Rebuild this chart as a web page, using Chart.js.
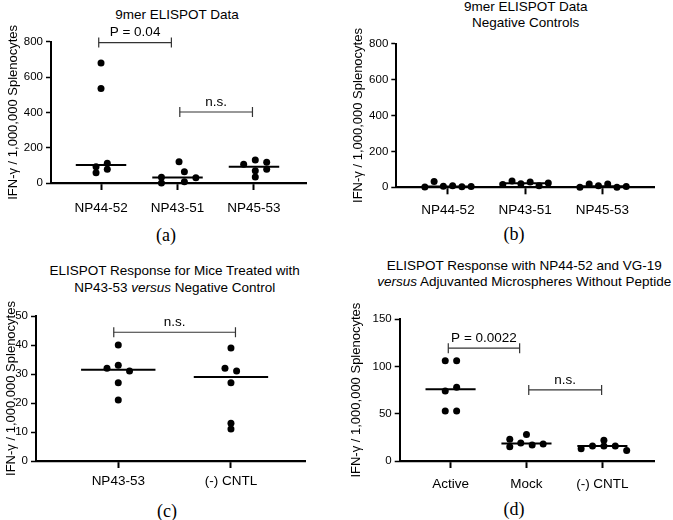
<!DOCTYPE html>
<html>
<head>
<meta charset="utf-8">
<script src="https://cdn.jsdelivr.net/npm/chart.js@4"></script>
<style>
  body { margin: 0; background: #fff; }
  #fig { position: relative; width: 673px; height: 520px; overflow: hidden;
         font-family: "Liberation Sans", Arial, sans-serif; color: #000; }
  .ttl { position: absolute; width: 360px; text-align: center; font-size: 13.5px;
         line-height: 16.5px; white-space: nowrap; }
  .cap { position: absolute; width: 60px; text-align: center;
         font-family: "Liberation Serif", serif; font-size: 18px; line-height: 20px; }
  canvas { position: absolute; }
</style>
</head>
<body>
<div id="fig">
  <div class="ttl" style="left:-3px; top:6.5px;">9mer ELISPOT Data</div>
  <div class="ttl" style="left:345.7px; top:-1.5px;">9mer ELISPOT Data<br>Negative Controls</div>
  <div class="ttl" style="left:-5.3px; top:263.4px;">ELISPOT Response for Mice Treated with<br>NP43-53 <i>versus</i> Negative Control</div>
  <div class="ttl" style="left:344.3px; top:257.7px;">ELISPOT Response with NP44-52 and VG-19<br><i>versus</i> Adjuvanted Microspheres Without Peptide</div>
  <div class="cap" style="left:136px; top:225px;">(a)</div>
  <div class="cap" style="left:484px; top:224px;">(b)</div>
  <div class="cap" style="left:137px; top:501px;">(c)</div>
  <div class="cap" style="left:484px; top:499px;">(d)</div>
</div>
<script>
// --- data ---
const yTitle = 'IFN-γ / 1,000,000 Splenocytes';

// (a) 9mer ELISPOT
const catsA = ['NP44-52', 'NP43-51', 'NP45-53'];
const valuesA = [
    [680, 535, 92, 112, 58, 78],
    [121, 32, 0, 64, 7, 30],
    [106, 130, 117, 70, 78, 34]
];
const jitterA = [
    [0, 0, -0.065, 0.082, -0.065, 0.082],
    [0.02, -0.21, -0.21, 0.09, 0.09, 0.24],
    [-0.135, 0.017, 0.166, 0.017, 0.166, 0.017]
];
const bracketsA = [
    { x0: -0.03, x1: 0.92, y: 795, label: 'P = 0.04' },
    { x0: 1.03, x1: 1.98, y: 402, label: 'n.s.' }
];

// (b) negative controls
const catsB = ['NP44-52', 'NP43-51', 'NP45-53'];
const valuesB = [
    [2, 32, 6, 8, 3, 4],
    [15, 35, 20, 30, 8, 24],
    [0, 18, 9, 18, 0, 4]
];
const jitterB = [
    [-0.3, -0.18, -0.06, 0.06, 0.18, 0.3],
    [-0.29, -0.17, -0.055, 0.065, 0.18, 0.3],
    [-0.29, -0.17, -0.05, 0.07, 0.19, 0.31]
];
const bracketsB = [];

// (c) NP43-53 vs control
const catsC = ['NP43-53', '(-) CNTL'];
const valuesC = [
    [40, 32, 33, 31, 27, 21],
    [39, 32, 31, 27, 13, 11]
];
const jitterC = [
    [0, -0.1, 0, 0.1, 0, 0],
    [0, -0.053, 0.05, 0, 0, 0]
];
const bracketsC = [
    { x0: -0.04, x1: 1.04, y: 44.4, label: 'n.s.' }
];

// (d) NP44-52 + VG-19
const catsD = ['Active', 'Mock', '(-) CNTL'];
const valuesD = [
    [106, 106, 74, 78, 53, 53],
    [23, 15, 19, 28, 17, 18],
    [13, 16, 22, 16, 16, 11]
];
const jitterD = [
    [-0.07, 0.08, -0.07, 0.08, -0.07, 0.08],
    [-0.22, -0.22, -0.075, 0, 0.075, 0.22],
    [-0.28, -0.13, 0.02, 0.02, 0.17, 0.32]
];
const bracketsD = [
    { x0: -0.03, x1: 0.91, y: 119.4, label: 'P = 0.0022' },
    { x0: 1.03, x1: 1.99, y: 75.2, label: 'n.s.' }
];

const FONT = '"Liberation Sans", Arial, sans-serif';

function median(arr) {
    const s = [...arr].sort((a, b) => a - b);
    const m = s.length / 2;
    return s.length % 2 ? s[Math.floor(m)] : (s[m - 1] + s[m]) / 2;
}

// draws the p-value / n.s. text above each bracket
const bracketText = {
    id: 'bracketText',
    afterDatasetsDraw(chart, args, opts) {
        const { ctx, scales: { x, y } } = chart;
        ctx.save();
        ctx.font = '13.5px ' + FONT;
        ctx.fillStyle = '#000';
        ctx.textAlign = 'center';
        ctx.textBaseline = 'middle';
        (opts.items || []).forEach(b => {
            ctx.fillText(b.label, x.getPixelForValue((b.x0 + b.x1) / 2), y.getPixelForValue(b.y) - 10);
        });
        ctx.restore();
    }
};

function makePanel(p) {
    const canvas = document.createElement('canvas');
    canvas.width = p.box.w;
    canvas.height = p.box.h;
    canvas.style.left = p.box.x + 'px';
    canvas.style.top = p.box.y + 'px';
    document.getElementById('fig').appendChild(canvas);

    const datasets = [];
    // dots first so they sit on top
    datasets.push({
        data: p.values.flatMap((g, i) => g.map((v, j) => ({ x: i + p.jitter[i][j], y: v }))),
        pointRadius: 3.5,
        pointBackgroundColor: '#000',
        pointBorderWidth: 0,
        showLine: false,
        clip: false
    });
    p.values.forEach((g, i) => {
        const m = median(g);
        datasets.push({
            data: [{ x: i - 0.33, y: m }, { x: i + 0.33, y: m }],
            showLine: true,
            borderColor: '#000',
            borderWidth: 2,
            pointRadius: 0,
            clip: false
        });
    });
    p.brackets.forEach(b => {
        datasets.push({
            data: [{ x: b.x0, y: b.y }, { x: b.x1, y: b.y }],
            showLine: true,
            borderColor: '#333',
            borderWidth: 1.2,
            pointStyle: 'line',
            pointRotation: 90,
            pointRadius: 5,
            pointBorderColor: '#333',
            pointBorderWidth: 1.2,
            clip: false
        });
    });

    return new Chart(canvas.getContext('2d'), {
        type: 'scatter',
        data: { datasets: datasets },
        plugins: [bracketText],
        options: {
            responsive: false,
            animation: false,
            events: [],
            layout: {
                padding: { top: p.area.t - p.box.y, right: p.box.x + p.box.w - p.area.r, bottom: 0, left: 0 }
            },
            plugins: {
                legend: { display: false },
                tooltip: { enabled: false },
                bracketText: { items: p.brackets }
            },
            scales: {
                x: {
                    type: 'linear',
                    min: p.xMin,
                    max: p.xMax,
                    afterBuildTicks: s => { s.ticks = p.cats.map((c, i) => ({ value: i })); },
                    afterFit: s => { s.height = p.box.y + p.box.h - p.area.b; },
                    grid: { drawOnChartArea: false, drawTicks: true, tickLength: 7, tickWidth: 2, tickColor: '#000' },
                    border: { display: true, color: '#000', width: 2.2 },
                    ticks: {
                        callback: v => p.cats[Math.round(v)],
                        font: { size: 13.5, family: FONT },
                        color: '#000',
                        padding: p.xPad,
                        maxRotation: 0,
                        autoSkip: false
                    }
                },
                y: {
                    min: 0,
                    max: p.yMax,
                    afterFit: s => { s.width = p.area.l - p.box.x; },
                    grid: { drawOnChartArea: false, drawTicks: true, tickLength: 5, tickWidth: 1.5, tickColor: '#000' },
                    border: { display: true, color: '#000', width: 2 },
                    ticks: { stepSize: p.yStep, font: { size: 11.5, family: FONT }, color: '#000', padding: 3 },
                    title: {
                        display: true,
                        text: yTitle,
                        font: { size: 13, family: FONT },
                        color: '#000',
                        padding: { top: p.yTitlePad, bottom: 0 }
                    }
                }
            }
        }
    });
}

makePanel({
    box: { x: 0, y: 0, w: 330, h: 225 }, area: { l: 51, t: 41.7, r: 306, b: 183 },
    cats: catsA, values: valuesA, jitter: jitterA, brackets: bracketsA,
    xMin: -0.654, xMax: 2.68, yMax: 800, yStep: 200, xPad: 9.9, yTitlePad: 5.2
});
makePanel({
    box: { x: 340, y: 0, w: 333, h: 225 }, area: { l: 396.3, t: 43.7, r: 654, b: 187.3 },
    cats: catsB, values: valuesB, jitter: jitterB, brackets: bracketsB,
    xMin: -0.67, xMax: 2.67, yMax: 800, yStep: 200, xPad: 8.3, yTitlePad: 10.2
});
makePanel({
    box: { x: 0, y: 255, w: 330, h: 240 }, area: { l: 36, t: 316, r: 305, b: 461 },
    cats: catsC, values: valuesC, jitter: jitterC, brackets: bracketsC,
    xMin: -0.73, xMax: 1.657, yMax: 50, yStep: 10, xPad: 5.6, yTitlePad: 3.2
});
makePanel({
    box: { x: 340, y: 255, w: 333, h: 240 }, area: { l: 399.7, t: 319.3, r: 654, b: 461 },
    cats: catsD, values: valuesD, jitter: jitterD, brackets: bracketsD,
    xMin: -0.67, xMax: 2.68, yMax: 150, yStep: 50, xPad: 7.9, yTitlePad: 8.5
});
</script>
</body>
</html>
